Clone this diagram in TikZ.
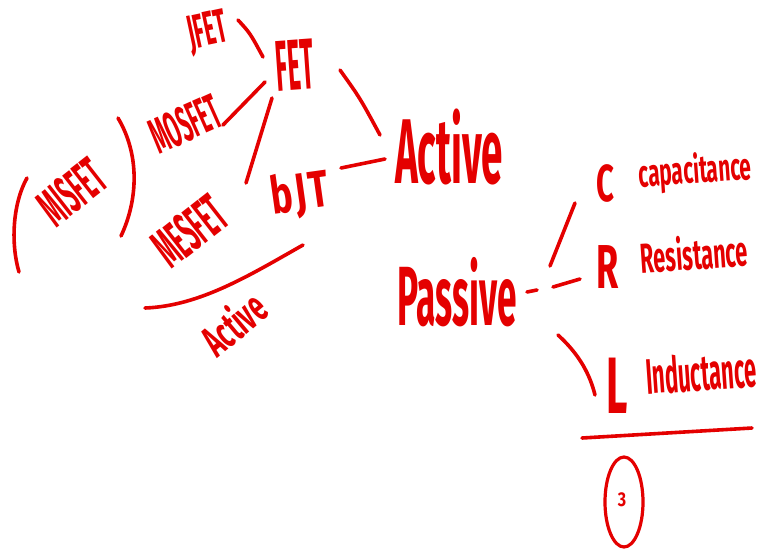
\documentclass[tikz,border=0pt]{standalone}
\usepackage{fontspec}
\setmainfont{Fira Sans}
\definecolor{ink}{RGB}{228,0,0}
\tikzset{
  pen/.style={draw=ink, line width=3.6pt, line cap=round, line join=round},
  word/.style={text=ink, inner sep=0pt, anchor=center},
}
% size, horizontal squeeze, text
\newcommand{\hw}[3]{\fontsize{#1}{#1}\selectfont\bfseries\scalebox{#2}[1]{#3}}
\begin{document}
\begin{tikzpicture}[x=1pt,y=-1pt]
\useasboundingbox (0,0) rectangle (758,550);
\fill[white] (0,0) rectangle (758,550);

% transistor family
\node[word, rotate=12] (jfet) at (208,33) {\hw{48}{0.44}{JFET}};
\node[word, rotate=4] (fet) at (295,65) {\hw{72}{0.34}{FET}};
\node[word, rotate=24] (mosfet) at (185,124) {\hw{50}{0.4}{MOSFET}};
\node[word, rotate=38] (misfet) at (72,192) {\hw{54}{0.4}{MISFET}};
\node[word, rotate=38] (mesfet) at (190,231) {\hw{56}{0.4}{MESFET}};
\node[word, rotate=8] (bjt) at (300,195) {\hw{52}{0.7}{b\hspace{4pt}J\hspace{4pt}T}};
\node[word, rotate=40] (active2) at (233,323) {\hw{44}{0.56}{Active}};

% brackets around MISFET
\coordinate (lp-a) at (27,178);
\coordinate (lp-b) at (19,272);
\coordinate (rp-a) at (118,118);
\coordinate (rp-b) at (121,236);
\draw[pen] (lp-a) .. controls (12,205) and (11,245) .. (lp-b);
\draw[pen] (rp-a) .. controls (140,155) and (138,200) .. (rp-b);

% main classes
\node[word] (active) at (449,147) {\hw{92}{0.42}{Active}};
\node[word] (passive) at (457,292) {\hw{84}{0.42}{Passive}};

% passive elements
\node[word] (cC) at (605,183) {\hw{52}{0.6}{C}};
\node[word, rotate=4] (cap) at (695,172) {\hw{38}{0.55}{capacitance}};
\node[word] (rR) at (608,267) {\hw{62}{0.58}{R}};
\node[word, rotate=4] (res) at (694,253) {\hw{42}{0.52}{Resistance}};
\node[word] (lL) at (617,386) {\hw{80}{0.52}{L}};
\node[word, rotate=4] (ind) at (701,372) {\hw{50}{0.44}{Inductance}};

% stroke end points
\coordinate (jfet-e) at (238,20);
\coordinate (fet-nw) at (263,57);
\coordinate (fet-w) at (265,82);
\coordinate (mosfet-e) at (223,125);
\coordinate (fet-sw) at (272,98);
\coordinate (mesfet-ne) at (246,183);
\coordinate (fet-e) at (340,70);
\coordinate (active-nw) at (380,135);
\coordinate (bjt-e) at (341,168);
\coordinate (active-w) at (385,159);
\coordinate (ul-a) at (145,308);
\coordinate (ul-b) at (303,245);
\coordinate (passive-e) at (527,292);
\coordinate (dash-e) at (537,290);
\coordinate (fork) at (553,287);
\coordinate (rR-w) at (580,279);
\coordinate (fork-up) at (550,266);
\coordinate (cC-sw) at (575,203);
\coordinate (fork-dn) at (558,335);
\coordinate (lL-w) at (595,395);
\coordinate (ul2-a) at (582,438);
\coordinate (ul2-b) at (752,428);

% connectors
\draw[pen] (jfet-e) .. controls (250,33) .. (fet-nw);
\draw[pen] (mosfet-e) -- (fet-w);
\draw[pen] (fet-sw) -- (mesfet-ne);
\draw[pen] (fet-e) .. controls (360,98) .. (active-nw);
\draw[pen] (bjt-e) -- (active-w);
\draw[pen] (ul-a) .. controls (200,306) and (250,275) .. (ul-b);
\draw[pen] (passive-e) -- (dash-e);
\draw[pen] (fork) -- (rR-w);
\draw[pen] (fork-up) -- (cC-sw);
\draw[pen] (fork-dn) .. controls (580,355) and (590,375) .. (lL-w);
\draw[pen] (ul2-a) -- (ul2-b);

% circled page number
\draw[pen, line width=3.2pt] (624,502) ellipse [x radius=19, y radius=45];
\node[word] (num) at (622,500) {\hw{20}{0.8}{3}};
\end{tikzpicture}
\end{document}
